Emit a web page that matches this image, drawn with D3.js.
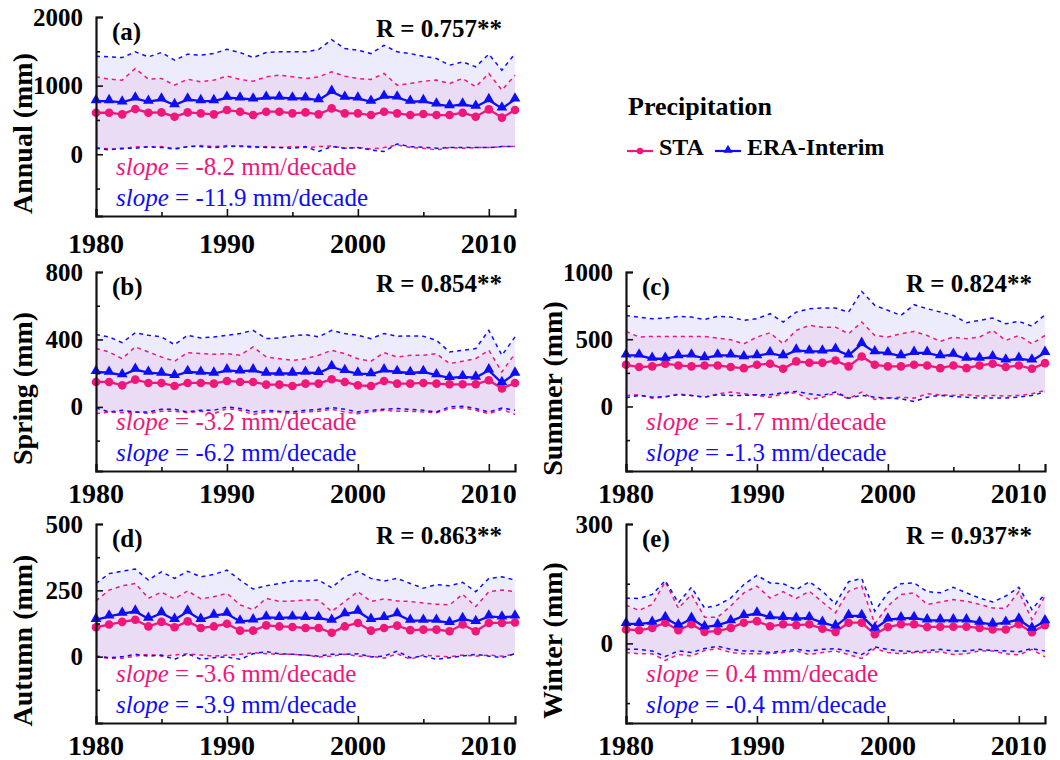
<!DOCTYPE html>
<html>
<head>
<meta charset="utf-8">
<script src="https://cdn.jsdelivr.net/npm/d3@7"></script>
<style>
  body { margin: 0; background: #fff; }
  svg text { font-family: "Liberation Serif", "Times New Roman", serif; }
</style>
</head>
<body>
<div id="chart"></div>
<script>
// 1. DATA
const years = [1980, 1981, 1982, 1983, 1984, 1985, 1986, 1987, 1988, 1989, 1990,
  1991, 1992, 1993, 1994, 1995, 1996, 1997, 1998, 1999, 2000,
  2001, 2002, 2003, 2004, 2005, 2006, 2007, 2008, 2009, 2010, 2011, 2012]

// (a) Annual
const annualStaMean = [605, 605, 581, 659, 605, 610, 547, 610, 596, 581, 644, 620, 571, 620, 620, 596, 610, 581, 668, 596, 596, 571, 620, 596, 571, 586, 571, 571, 605, 547, 654, 533, 644]
const annualStaHi = [1128, 1094, 1080, 1249, 1094, 1104, 1007, 1094, 1056, 1080, 1138, 1090, 1065, 1128, 1153, 1128, 1104, 1128, 1201, 1138, 1104, 1090, 1177, 1007, 1031, 1065, 1080, 1031, 1104, 983, 1177, 935, 1153]
const annualStaLo = [97, 77, 77, 111, 102, 111, 87, 111, 126, 111, 126, 111, 97, 111, 97, 111, 97, 111, 121, 87, 97, 77, 97, 136, 97, 87, 63, 97, 87, 97, 97, 111, 111]
const annualEraMean = [775, 775, 755, 813, 765, 800, 717, 800, 775, 775, 823, 813, 800, 823, 823, 813, 813, 790, 910, 823, 813, 765, 838, 828, 765, 775, 726, 702, 726, 692, 790, 668, 800]
const annualEraHi = [1429, 1419, 1409, 1492, 1419, 1482, 1370, 1458, 1443, 1467, 1530, 1482, 1409, 1482, 1492, 1492, 1492, 1525, 1670, 1540, 1516, 1467, 1588, 1492, 1467, 1429, 1395, 1298, 1346, 1274, 1458, 1225, 1467]
const annualEraLo = [87, 63, 87, 87, 111, 97, 73, 111, 111, 97, 111, 121, 111, 97, 97, 87, 111, 39, 111, 87, 97, 63, 39, 150, 111, 102, 87, 97, 97, 97, 97, 111, 111]

// (b) Spring
const springStaMean = [148, 148, 128, 162, 142, 142, 124, 142, 142, 138, 154, 148, 148, 132, 132, 124, 138, 138, 164, 148, 128, 124, 154, 138, 138, 142, 138, 134, 134, 134, 158, 109, 142]
const springStaHi = [346, 326, 286, 356, 326, 296, 271, 322, 316, 312, 316, 306, 356, 296, 286, 276, 286, 306, 336, 316, 286, 271, 322, 296, 306, 306, 316, 257, 271, 286, 336, 207, 316]
const springStaLo = [-40, -30, -34, -30, -40, -26, -26, -34, -26, -40, -10, -20, -45, -30, -30, -40, -30, -26, -14, -30, -40, -30, -20, -26, -26, -30, -34, -10, -6, -20, -40, -14, -45]
const springEraMean = [207, 203, 188, 221, 203, 198, 184, 207, 203, 198, 217, 211, 217, 198, 198, 198, 203, 201, 237, 213, 198, 194, 217, 207, 201, 207, 188, 172, 178, 174, 217, 142, 198]
const springEraHi = [429, 415, 381, 440, 425, 415, 369, 425, 409, 415, 425, 435, 454, 405, 409, 421, 429, 415, 454, 435, 425, 405, 435, 419, 421, 419, 395, 326, 336, 346, 454, 306, 415]
const springEraLo = [-6, -30, -20, -30, -30, -14, -14, -30, -20, -20, 0, -10, -30, -20, -26, -30, -20, -14, -4, -14, -30, -20, -14, -10, -14, -20, -30, 0, 4, -10, -30, -6, -20]

// (c) Summer
const summerStaMean = [310, 293, 298, 318, 305, 298, 305, 305, 293, 285, 310, 318, 280, 335, 325, 325, 342, 298, 372, 310, 298, 298, 310, 305, 285, 305, 285, 305, 318, 293, 305, 280, 322]
const summerStaHi = [558, 516, 521, 521, 521, 521, 521, 509, 496, 466, 516, 548, 466, 566, 603, 590, 590, 541, 628, 528, 516, 541, 558, 528, 484, 516, 504, 516, 566, 491, 528, 466, 528]
const summerStaLo = [82, 87, 62, 69, 94, 82, 69, 94, 107, 94, 82, 69, 94, 102, 52, 69, 99, 57, 107, 52, 62, 69, 62, 94, 87, 82, 87, 77, 82, 77, 82, 94, 119]
const summerEraMean = [380, 380, 355, 355, 375, 380, 360, 380, 380, 367, 375, 397, 375, 417, 409, 409, 422, 380, 466, 404, 397, 375, 399, 399, 375, 385, 355, 355, 367, 342, 355, 342, 399]
const summerEraHi = [677, 665, 652, 657, 670, 665, 647, 670, 665, 640, 652, 690, 628, 702, 727, 732, 732, 702, 856, 752, 715, 677, 757, 727, 702, 677, 623, 640, 657, 615, 633, 598, 682]
const summerEraLo = [65, 82, 69, 74, 87, 82, 69, 87, 82, 82, 87, 87, 102, 112, 94, 82, 107, 62, 82, 69, 62, 57, 37, 69, 82, 74, 69, 62, 62, 62, 69, 82, 107]

// (d) Autumn
const autumnStaMean = [111, 121, 131, 139, 114, 131, 111, 133, 108, 114, 124, 98, 98, 118, 114, 112, 108, 108, 90, 114, 127, 98, 108, 117, 100, 102, 102, 96, 121, 96, 127, 127, 129]
const autumnStaHi = [210, 251, 267, 276, 220, 243, 218, 248, 218, 226, 239, 195, 177, 220, 208, 210, 214, 214, 170, 208, 245, 208, 218, 210, 208, 202, 198, 195, 235, 189, 245, 251, 245]
const autumnStaLo = [-1, -6, -6, 2, 9, 2, 6, 11, 6, 2, 5, 9, 15, 11, 9, 9, 6, -1, 2, 9, 2, 2, -6, 11, -10, 6, 2, -1, 6, 2, 6, 2, 9]
const autumnEraMean = [139, 152, 162, 170, 143, 164, 139, 170, 139, 155, 162, 133, 137, 148, 146, 148, 146, 146, 136, 160, 170, 139, 146, 160, 136, 136, 136, 127, 142, 131, 152, 148, 152]
const autumnEraHi = [276, 313, 322, 330, 289, 320, 295, 322, 301, 310, 326, 289, 255, 267, 276, 285, 285, 289, 260, 301, 322, 295, 285, 295, 276, 258, 272, 267, 280, 245, 295, 301, 289]
const autumnEraLo = [2, -4, 0, 9, 2, 6, -10, 11, -10, -4, -1, -10, 11, 19, 11, 9, 6, 2, 9, 9, 11, -1, 2, 21, -4, 2, -10, -4, 2, 9, 2, -4, 11]

// (e) Winter
const winterStaMean = [35, 33, 39, 52, 33, 48, 29, 31, 39, 52, 56, 43, 48, 46, 48, 37, 29, 52, 52, 23, 41, 48, 48, 41, 42, 42, 42, 39, 35, 35, 48, 28, 46]
const winterStaHi = [96, 83, 98, 155, 88, 123, 66, 66, 94, 127, 144, 114, 130, 113, 131, 104, 77, 131, 144, 49, 94, 123, 127, 98, 104, 110, 106, 98, 89, 88, 130, 60, 119]
const winterStaLo = [-23, -26, -26, -43, -28, -32, -18, -13, -23, -26, -26, -26, -23, -19, -28, -23, -19, -28, -38, -13, -23, -26, -23, -23, -21, -28, -26, -19, -19, -26, -29, -15, -34]
const winterEraMean = [49, 49, 52, 64, 45, 62, 41, 46, 56, 69, 75, 66, 64, 62, 64, 52, 43, 69, 69, 37, 60, 63, 64, 58, 58, 58, 58, 52, 48, 52, 60, 37, 56]
const winterEraHi = [114, 113, 123, 158, 102, 141, 89, 96, 114, 148, 171, 152, 150, 135, 155, 131, 99, 155, 163, 81, 127, 150, 152, 130, 127, 141, 127, 114, 104, 119, 141, 85, 125]
const winterEraLo = [-15, -15, -19, -33, -19, -23, -13, -7, -15, -19, -19, -23, -19, -15, -19, -15, -13, -19, -28, -9, -15, -19, -21, -18, -15, -19, -19, -15, -18, -19, -21, -13, -19]

const panelNames = ["(a)", "(b)", "(c)", "(d)", "(e)"]
const axisTitles = ["Annual (mm)", "Spring (mm)", "Summer (mm)", "Autumn (mm)", "Winter (mm)"]
const rLabels = ["R = 0.757**", "R = 0.854**", "R = 0.824**", "R = 0.863**", "R = 0.937**"]
const staSlopes = ["-8.2", "-3.2", "-1.7", "-3.6", "0.4"]
const eraSlopes = ["-11.9", "-6.2", "-1.3", "-3.9", "-0.4"]
const yDomains = [[-900, 2000], [-380, 800], [-480, 1000], [-250, 500], [-200, 300]]
const yMajorTicks = [[0, 1000, 2000], [0, 400, 800], [0, 500, 1000], [0, 250, 500], [0, 300]]
const yMinorTicks = [[-500, 500, 1500], [-200, 200, 600], [-250, 250, 750], [-125, 125, 375], [-150, 150]]
const xMajorTicks = [1980, 1990, 2000, 2010]
const xMinorTicks = [1985, 1995, 2005]

const staSeries = [
  [annualStaMean, annualStaHi, annualStaLo],
  [springStaMean, springStaHi, springStaLo],
  [summerStaMean, summerStaHi, summerStaLo],
  [autumnStaMean, autumnStaHi, autumnStaLo],
  [winterStaMean, winterStaHi, winterStaLo],
]
const eraSeries = [
  [annualEraMean, annualEraHi, annualEraLo],
  [springEraMean, springEraHi, springEraLo],
  [summerEraMean, summerEraHi, summerEraLo],
  [autumnEraMean, autumnEraHi, autumnEraLo],
  [winterEraMean, winterEraHi, winterEraLo],
]

// 2. DIMENSIONS
const width = 1060
const height = 760
const panelWidth = 419
const panelHeight = 199
const panelPos = [
  { left: 96, top: 17, xLabelDy: 37 },
  { left: 96, top: 272, xLabelDy: 32 },
  { left: 626, top: 272, xLabelDy: 32 },
  { left: 96, top: 524, xLabelDy: 32 },
  { left: 626, top: 524, xLabelDy: 32 },
]

const pink = "#f0167a"
const blue = "#0d0dfa"
const pinkFill = "#ebd9f5"
const blueFill = "#ececfc"

// 3. DRAW CANVAS
const svg = d3.select("#chart")
  .append("svg")
  .attr("width", width)
  .attr("height", height)

const xScale = d3.scaleLinear()
  .domain([1980, 2012])
  .range([0, panelWidth])

panelPos.forEach((pos, i) => {
  const bounds = svg.append("g")
    .attr("transform", `translate(${pos.left},${pos.top})`)

  // 4. SCALES
  const yScale = d3.scaleLinear()
    .domain(yDomains[i])
    .range([panelHeight, 0])

  const rows = (series) => years.map((yr, j) => ({
    year: yr, mean: series[0][j], hi: series[1][j], lo: series[2][j]
  }))
  const sta = rows(staSeries[i])
  const era = rows(eraSeries[i])

  const area = d3.area()
    .x(d => xScale(d.year))
    .y0(d => yScale(d.lo))
    .y1(d => yScale(d.hi))

  const line = key => d3.line()
    .x(d => xScale(d.year))
    .y(d => yScale(d[key]))

  // 5. DRAW DATA
  bounds.append("path").datum(era)
    .attr("d", area).attr("fill", blueFill)
  bounds.append("path").datum(sta)
    .attr("d", area).attr("fill", pinkFill).attr("fill-opacity", 0.85)

  const dashed = [[sta, "hi", pink], [sta, "lo", pink], [era, "hi", blue], [era, "lo", blue]]
  dashed.forEach(([data, key, color]) => {
    bounds.append("path").datum(data)
      .attr("d", line(key))
      .attr("fill", "none")
      .attr("stroke", color)
      .attr("stroke-width", 1.5)
      .attr("stroke-dasharray", "4,4")
  })

  bounds.append("path").datum(sta)
    .attr("d", line("mean"))
    .attr("fill", "none").attr("stroke", pink).attr("stroke-width", 2.3)
  bounds.selectAll(".sta-dot").data(sta)
    .enter().append("circle")
    .attr("cx", d => xScale(d.year))
    .attr("cy", d => yScale(d.mean))
    .attr("r", 4.3)
    .attr("fill", pink)

  bounds.append("path").datum(era)
    .attr("d", line("mean"))
    .attr("fill", "none").attr("stroke", blue).attr("stroke-width", 2.3)
  const tri = d3.symbol().type(d3.symbolTriangle).size(50)
  bounds.selectAll(".era-tri").data(era)
    .enter().append("path")
    .attr("d", tri)
    .attr("transform", d => `translate(${xScale(d.year)},${yScale(d.mean) - 1})`)
    .attr("fill", blue)

  // 6. PERIPHERALS
  bounds.append("g")
    .call(d3.axisRight(yScale).tickValues(yMajorTicks[i]).tickSize(7).tickFormat(""))
  bounds.append("g")
    .call(d3.axisRight(yScale).tickValues(yMinorTicks[i]).tickSize(4).tickFormat(""))
    .select(".domain").remove()

  bounds.append("g")
    .attr("transform", `translate(0,${panelHeight})`)
    .call(d3.axisTop(xScale).tickValues(xMajorTicks).tickSize(7).tickFormat(""))
  bounds.append("g")
    .attr("transform", `translate(0,${panelHeight})`)
    .call(d3.axisTop(xScale).tickValues(xMinorTicks).tickSize(4).tickFormat(""))
    .select(".domain").remove()

  bounds.selectAll(".domain").attr("stroke-width", 2.2).attr("stroke", "#111")
  bounds.selectAll(".tick line").attr("stroke-width", 1.6).attr("stroke", "#111")

  // tick labels
  bounds.selectAll(".ylab").data(yMajorTicks[i])
    .enter().append("text")
    .attr("x", -13)
    .attr("y", d => yScale(d))
    .attr("dy", "0.34em")
    .attr("text-anchor", "end")
    .attr("font-size", 25)
    .attr("font-weight", "bold")
    .text(d => d)

  bounds.selectAll(".xlab").data(xMajorTicks)
    .enter().append("text")
    .attr("x", d => xScale(d))
    .attr("y", panelHeight + pos.xLabelDy)
    .attr("text-anchor", "middle")
    .attr("font-size", 28)
    .attr("font-weight", "bold")
    .text(d => d)

  bounds.append("text")
    .attr("transform", `translate(-74,${panelHeight / 2 + 17}) rotate(-90)`)
    .attr("text-anchor", "middle")
    .attr("dominant-baseline", "central")
    .attr("font-size", 28)
    .attr("font-weight", "bold")
    .text(axisTitles[i])

  bounds.append("text")
    .attr("x", 16).attr("y", 23)
    .attr("font-size", 25).attr("font-weight", "bold")
    .text(panelNames[i])

  bounds.append("text")
    .attr("x", 406).attr("y", 20)
    .attr("text-anchor", "end")
    .attr("font-size", 25).attr("font-weight", "bold")
    .text(rLabels[i])

  const slopeLines = [[staSlopes[i], pink, panelHeight - 41], [eraSlopes[i], blue, panelHeight - 10]]
  slopeLines.forEach(([val, color, y]) => {
    const t = bounds.append("text")
      .attr("x", 20).attr("y", y)
      .attr("font-size", 25).attr("fill", color)
    t.append("tspan").attr("font-style", "italic").text("slope")
    t.append("tspan").text(` = ${val} mm/decade`)
  })
})

// legend
const legend = svg.append("g")
legend.append("text")
  .attr("x", 628).attr("y", 115)
  .attr("font-size", 26).attr("font-weight", "bold")
  .text("Precipitation")

const legendItems = [
  { name: "STA", color: pink, x: 627, marker: "circle" },
  { name: "ERA-Interim", color: blue, x: 715, marker: "triangle" },
]
legendItems.forEach(item => {
  legend.append("line")
    .attr("x1", item.x).attr("x2", item.x + 26)
    .attr("y1", 151).attr("y2", 151)
    .attr("stroke", item.color).attr("stroke-width", 2.2)
  if (item.marker === "circle") {
    legend.append("circle")
      .attr("cx", item.x + 13).attr("cy", 151).attr("r", 3.2)
      .attr("fill", item.color)
  } else {
    legend.append("path")
      .attr("d", d3.symbol().type(d3.symbolTriangle).size(36))
      .attr("transform", `translate(${item.x + 13},150)`)
      .attr("fill", item.color)
  }
  legend.append("text")
    .attr("x", item.x + 32).attr("y", 155)
    .attr("font-size", 24).attr("font-weight", "bold")
    .text(item.name)
})
</script>
</body>
</html>
